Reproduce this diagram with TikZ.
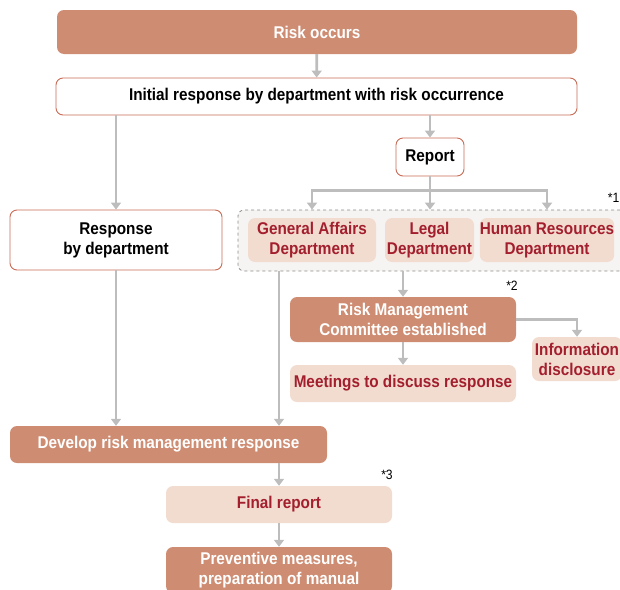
\documentclass[tikz,border=0pt]{standalone}
\usepackage{fontspec}
\setmainfont{Liberation Sans}[FakeStretch=0.9]
\usetikzlibrary{arrows.meta,calc}
\definecolor{darkfill}{HTML}{CE8C72}
\definecolor{lightfill}{HTML}{F2DCD0}
\definecolor{redtext}{HTML}{A31F2E}
\definecolor{edgecol}{HTML}{C96B55}
\definecolor{linecol}{HTML}{BDBDBD}
\definecolor{groupfill}{HTML}{F6F4F3}
\definecolor{groupedge}{HTML}{8A8A8A}
\tikzset{
  x=1pt, y=-1pt,
  box/.style={rounded corners=7pt, inner sep=0pt, align=center,
    font=\fontsize{17}{20}\selectfont\bfseries},
  darkbox/.style={box, fill=darkfill, text=white},
  lightbox/.style={box, fill=lightfill, text=redtext},
  whitebox/.style={box, fill=white, draw=edgecol, line width=0.9pt, text=black},
  flow/.style={draw=linecol, line width=2.8pt},
  arr/.style={flow, -{Triangle[length=7pt, width=10pt]}},
  notemark/.style={font=\fontsize{13.5}{15}\selectfont, inner sep=0pt},
}
\begin{document}
\begin{tikzpicture}
\useasboundingbox (0,0) rectangle (620,589);
\clip (0,0) rectangle (620,589);

% dashed grouping of the three departments
\node[draw=groupedge, dashed, line width=0.8pt, fill=groupfill, rounded corners=6pt,
  minimum width=388pt, minimum height=61pt, inner sep=0pt] (grp) at (432,240.5) {};

\node[darkbox, minimum width=520pt, minimum height=44pt] (risk) at (317,32) {Risk occurs};
\node[whitebox, minimum width=521pt, minimum height=37pt] (init) at (316.5,96.5)
  {Initial response by department with risk occurrence};
\node[whitebox, minimum width=68pt, minimum height=38pt] (report) at (430,157) {Report};
\node[whitebox, minimum width=212pt, minimum height=60pt] (resp) at (116,240)
  {Response\\by department};

\node[lightbox, minimum width=128pt, minimum height=44pt] (ga) at (312,240)
  {General Affairs\\Department};
\node[lightbox, minimum width=89pt, minimum height=44pt] (legal) at (429.5,240)
  {Legal\\Department};
\node[lightbox, minimum width=128pt, minimum height=44pt] (hr) at (547,240)
  {Human Resources\\Department};

\node[darkbox, minimum width=226pt, minimum height=45pt] (rmc) at (403,319.5)
  {Risk Management\\Committee established};
\node[lightbox, minimum width=90pt, minimum height=44pt] (info) at (577,359)
  {Information\\disclosure};
\node[lightbox, minimum width=226pt, minimum height=37pt] (meet) at (403,383.5)
  {Meetings to discuss response};

\node[darkbox, minimum width=317pt, minimum height=37pt] (dev) at (168.5,444.5)
  {Develop risk management response};
\node[lightbox, minimum width=226pt, minimum height=37pt] (fin) at (279,504.5)
  {Final report};
\node[darkbox, minimum width=226pt, minimum height=46pt] (prev) at (279,570)
  {Preventive measures,\\preparation of manual};

% footnote marks
\node[notemark, anchor=east] (m1) at (619.5,198) {*1};
\node[notemark] (m2) at (512,286) {*2};
\node[notemark] (m3) at (387,475) {*3};

% connectors
\coordinate (split) at ($(report.south)+(0,14)$);
\draw[arr] (risk) -- (init);
\draw[arr] (init.south -| report) -- (report);
\draw[arr] (init.south -| resp) -- (resp);
\draw[flow] (report.south) -- (split);
\draw[arr] (split) -- (split |- grp.north);
\draw[arr] (split) -| (grp.north -| ga);
\draw[arr] (split) -| (grp.north -| hr);
\draw[arr] (resp) -- (resp |- dev.north);
\draw[arr] (grp.south -| fin) -- (dev.north -| fin);
\draw[arr] (grp.south -| rmc) -- (rmc);
\draw[arr] (rmc.east) -| (info.north);
\draw[arr] (rmc) -- (meet);
\draw[arr] (dev.south -| fin) -- (fin);
\draw[arr] (fin) -- (prev);
\end{tikzpicture}
\end{document}
